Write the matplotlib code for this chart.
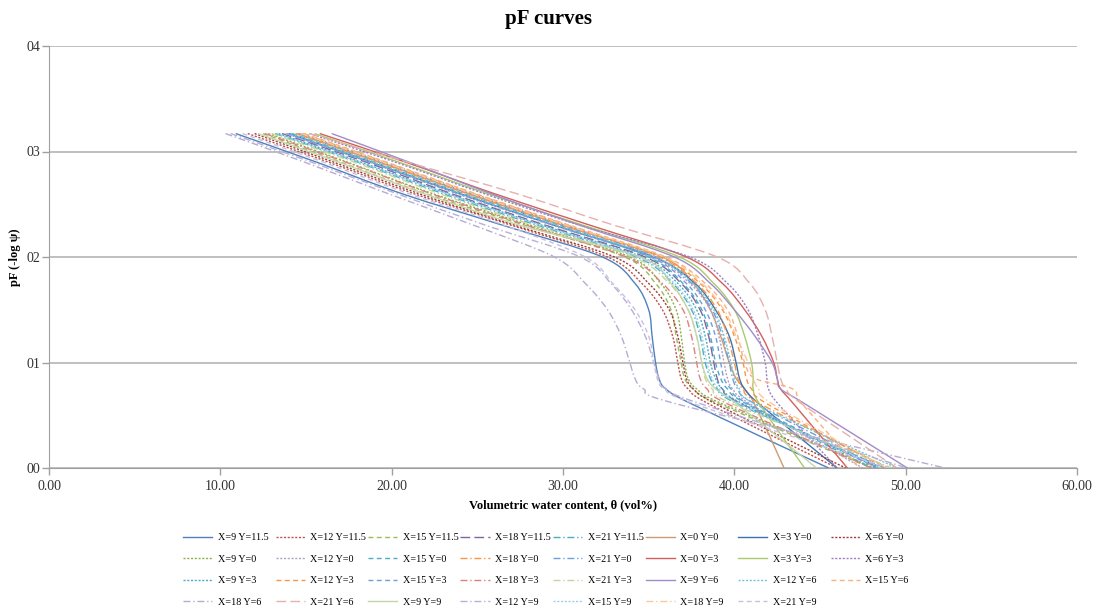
import numpy as np
import matplotlib
matplotlib.use("Agg")
import matplotlib.pyplot as plt
from matplotlib.ticker import StrMethodFormatter
from matplotlib.path import Path
from matplotlib.patches import PathPatch
from matplotlib.lines import Line2D

plt.rcParams['font.family'] = ['Liberation Serif', 'DejaVu Serif']

# pF levels (y) shared by every curve
pf = [3.17, 2.9, 2.6, 2.3, 2.0, 1.75, 1.5, 1.25, 1.0, 0.85, 0.75, 0.6, 0.0]

# volumetric water content (x) at each pF level
x9_y11_5  = [10.9, 15.6, 20.6, 26.5, 32.3, 34.2, 35.0, 35.2, 35.4, 35.6, 36.0, 37.6, 45.5]
x12_y11_5 = [11.6, 16.3, 21.3, 27.0, 32.6, 34.6, 35.8, 36.4, 36.7, 36.9, 37.3, 38.6, 46.0]
x15_y11_5 = [12.5, 17.0, 22.0, 27.8, 33.6, 35.4, 36.3, 36.6, 36.9, 37.1, 37.6, 39.2, 48.0]
x18_y11_5 = [13.6, 18.5, 23.5, 29.0, 34.8, 36.9, 38.0, 38.5, 38.8, 39.0, 39.3, 40.5, 48.5]
x21_y11_5 = [13.2, 18.0, 23.0, 28.5, 34.3, 36.4, 37.5, 38.0, 38.3, 38.6, 39.0, 40.3, 48.8]
x0_y0     = [14.5, 19.3, 24.5, 30.0, 35.8, 37.6, 38.6, 39.2, 39.7, 40.1, 40.6, 41.2, 42.9]
x3_y0     = [14.0, 18.8, 24.0, 29.5, 35.3, 37.7, 38.9, 39.7, 40.1, 40.3, 40.6, 41.5, 46.0]
x6_y0     = [12.0, 16.6, 21.6, 27.2, 33.0, 35.0, 36.2, 36.7, 37.0, 37.2, 37.6, 39.0, 46.5]
x9_y0     = [12.8, 17.4, 22.4, 28.1, 33.9, 35.7, 36.6, 36.9, 37.1, 37.3, 37.8, 39.4, 48.2]
x12_y0    = [13.8, 18.7, 23.8, 29.4, 35.2, 37.4, 38.6, 39.1, 39.4, 39.6, 39.9, 41.0, 47.5]
x15_y0    = [14.2, 19.0, 24.2, 29.8, 35.0, 37.0, 38.1, 38.6, 38.9, 39.2, 39.6, 40.8, 48.0]
x18_y0    = [14.8, 19.6, 24.8, 30.3, 35.6, 37.8, 39.0, 39.6, 40.0, 40.2, 40.5, 41.6, 49.0]
x21_y0    = [14.6, 19.4, 24.6, 30.1, 35.4, 37.5, 38.7, 39.3, 39.7, 39.9, 40.2, 41.3, 48.6]
x0_y3     = [15.8, 20.8, 26.0, 31.6, 37.2, 39.3, 40.6, 41.6, 42.3, 42.5, 42.7, 43.5, 46.6]
x3_y3     = [15.5, 20.4, 25.6, 31.2, 36.8, 38.8, 40.0, 40.6, 41.0, 41.1, 41.1, 41.5, 44.1]
x6_y3     = [15.2, 20.2, 25.4, 31.0, 37.4, 39.6, 40.8, 41.4, 41.8, 41.9, 42.0, 42.6, 46.0]
x9_y3     = [13.4, 18.2, 23.3, 28.8, 34.6, 36.7, 37.8, 38.3, 38.6, 38.9, 39.3, 40.6, 48.4]
x12_y3    = [14.4, 19.2, 24.4, 30.0, 35.7, 38.0, 39.3, 40.0, 40.5, 40.7, 41.0, 42.0, 48.8]
x15_y3    = [13.9, 18.7, 23.9, 29.5, 35.1, 37.2, 38.3, 38.9, 39.2, 39.4, 39.8, 40.9, 48.3]
x18_y3    = [12.6, 17.3, 22.3, 27.9, 33.7, 35.8, 37.0, 37.5, 37.8, 38.0, 38.4, 39.7, 48.0]
x21_y3    = [13.0, 17.8, 22.8, 28.3, 34.1, 36.2, 37.3, 37.8, 38.1, 38.3, 38.7, 40.0, 49.2]
x9_y6     = [16.5, 21.0, 25.8, 31.0, 36.5, 38.6, 40.0, 41.2, 42.2, 42.5, 42.7, 44.2, 50.1]
x12_y6    = [14.1, 18.9, 24.1, 29.7, 35.4, 37.6, 38.8, 39.4, 39.8, 40.0, 40.3, 41.3, 49.5]
x15_y6    = [14.9, 19.7, 24.9, 30.4, 36.0, 38.3, 39.6, 40.2, 40.6, 41.2, 43.4, 44.0, 47.3]
x18_y6    = [10.3, 14.9, 19.8, 24.8, 29.5, 31.3, 32.6, 33.4, 33.9, 34.2, 34.7, 36.8, 52.3]
x21_y6    = [15.2, 20.9, 27.3, 33.0, 39.0, 40.9, 41.8, 42.2, 42.5, 42.7, 43.0, 44.0, 49.5]
x9_y9     = [12.2, 16.9, 21.9, 27.5, 34.5, 36.3, 37.3, 37.8, 38.1, 38.4, 38.9, 40.2, 44.8]
x12_y9    = [10.6, 15.3, 20.3, 25.5, 31.0, 32.8, 34.0, 34.8, 35.3, 35.6, 36.0, 38.2, 50.1]
x15_y9    = [13.3, 18.1, 23.2, 28.7, 34.4, 36.5, 37.6, 38.1, 38.4, 38.7, 39.1, 40.4, 48.6]
x18_y9    = [14.7, 19.5, 24.7, 30.2, 35.9, 38.1, 39.4, 40.1, 40.8, 41.1, 41.4, 42.3, 48.9]
x21_y9    = [11.3, 16.0, 21.0, 26.6, 31.3, 32.9, 34.2, 35.0, 35.3, 35.5, 35.9, 37.8, 49.0]

labels = ['X=9 Y=11.5', 'X=12 Y=11.5', 'X=15 Y=11.5', 'X=18 Y=11.5', 'X=21 Y=11.5',
          'X=0 Y=0', 'X=3 Y=0', 'X=6 Y=0', 'X=9 Y=0', 'X=12 Y=0', 'X=15 Y=0',
          'X=18 Y=0', 'X=21 Y=0', 'X=0 Y=3', 'X=3 Y=3', 'X=6 Y=3', 'X=9 Y=3',
          'X=12 Y=3', 'X=15 Y=3', 'X=18 Y=3', 'X=21 Y=3', 'X=9 Y=6', 'X=12 Y=6',
          'X=15 Y=6', 'X=18 Y=6', 'X=21 Y=6', 'X=9 Y=9', 'X=12 Y=9', 'X=15 Y=9',
          'X=18 Y=9', 'X=21 Y=9']
series = [x9_y11_5, x12_y11_5, x15_y11_5, x18_y11_5, x21_y11_5,
          x0_y0, x3_y0, x6_y0, x9_y0, x12_y0, x15_y0, x18_y0, x21_y0,
          x0_y3, x3_y3, x6_y3, x9_y3, x12_y3, x15_y3, x18_y3, x21_y3,
          x9_y6, x12_y6, x15_y6, x18_y6, x21_y6,
          x9_y9, x12_y9, x15_y9, x18_y9, x21_y9]

colors = ['#4F81BD', '#C0504D', '#9BBB59', '#8064A2', '#4BACC6',
          '#D19A6E', '#3F73AE', '#A33B38', '#8EB04A', '#B3A2C7', '#4BACC6',
          '#F79646', '#6F9FD8', '#D35F5B', '#A9CB6E', '#9A7FC4', '#4BACC6',
          '#F79646', '#6F9ED8', '#E0807E', '#C3D69B', '#A08CC8', '#70C5DC',
          '#FAB07A', '#B7ABD2', '#E6B0AD', '#C4D6A8', '#B8AFD8', '#9DD0E8',
          '#FBC79C', '#C9C0E0']
solid, dot, dash, ldash, dashdot = '-', (0, (1.5, 1.2)), (0, (3.5, 2.5)), (0, (7, 3)), (0, (5, 2, 1, 2))
styles = [solid, dot, dash, ldash, dashdot,
          solid, solid, dot, dot, dot, dash, dashdot, dashdot,
          solid, solid, dot, dot, dash, dash, dashdot, dashdot,
          solid, dot, dash, dashdot, ldash,
          solid, dashdot, dot, dashdot, dash]

fig = plt.figure(figsize=(10.97, 6.10), dpi=100)
ax = fig.add_axes([49/1097, 1-468/610, (1077-49)/1097, (468-46)/610])
ax.set_xlim(0, 60)
ax.set_ylim(0, 4)


def smooth_path(xs, ys):
    # spreadsheet-style smoothed line: Bezier segments through the points
    sx, sy = 1028/60, 422/4
    p = np.column_stack([np.asarray(xs)*sx, np.asarray(ys)*sy])
    n = len(p)
    verts = [p[0]]
    codes = [Path.MOVETO]
    for i in range(n-1):
        p0 = p[max(i-1, 0)]
        p1 = p[i]
        p2 = p[i+1]
        p3 = p[min(i+2, n-1)]
        verts += [p1 + (p2-p0)/6, p2 - (p3-p1)/6, p2]
        codes += [Path.CURVE4]*3
    verts = np.array(verts) / [sx, sy]
    return Path(verts, codes)


handles = []
for xs, lab, c, ls in zip(series, labels, colors, styles):
    ax.add_patch(PathPatch(smooth_path(xs, pf), facecolor='none', edgecolor=c,
                           linestyle=ls, linewidth=1.0))
    handles.append(Line2D([], [], color=c, linestyle=ls, linewidth=1.0))

ax.set_xticks(np.arange(0, 61, 10))
ax.set_yticks(np.arange(0, 5, 1))
ax.xaxis.set_major_formatter(StrMethodFormatter('{x:.2f}'))
ax.yaxis.set_major_formatter(StrMethodFormatter('{x:02.0f}'))
ax.yaxis.grid(True, color='#B4B4B4', linewidth=1.2)
ax.set_axisbelow(True)
for s in ['top', 'right']:
    ax.spines[s].set_visible(False)
for s in ['left', 'bottom']:
    ax.spines[s].set_color('#A0A0A0')
ax.tick_params(axis='both', colors='#A0A0A0', labelcolor='#333333', labelsize=10,
               length=5, width=1.0)
ax.tick_params(axis='x', pad=4)
ax.tick_params(axis='y', pad=1.5)

ax.set_xlabel('Volumetric water content, θ (vol%)', fontsize=9, fontweight='bold', labelpad=4)
ax.set_ylabel('pF (-log ψ)', fontsize=9, fontweight='bold', labelpad=4)
fig.text(0.5, 1-19/610, 'pF curves', ha='center', va='center', fontsize=15, fontweight='bold')

# legend laid out row by row, 8 columns at fixed spacing
ncol = 8
for j in range(ncol):
    idx = list(range(j, len(handles), ncol))
    fig.legend([handles[i] for i in idx], [labels[i] for i in idx],
               loc='upper left', bbox_to_anchor=((183 + j*92.5)/1097, 1-533/610),
               frameon=False, fontsize=7.3, handlelength=2.9, handletextpad=0.55,
               labelspacing=1.23, borderpad=0, borderaxespad=0)

fig.savefig('out.png', dpi=100)
